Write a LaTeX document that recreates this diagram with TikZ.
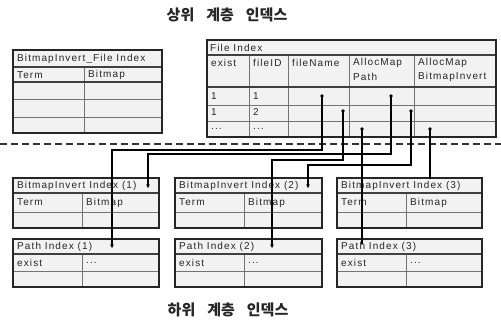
\documentclass[tikz,border=0pt]{standalone}
\usepackage{fontspec}
\setmainfont{Liberation Sans}[LetterSpace=11]
\newfontfamily\kr{Noto Sans CJK KR}
\usetikzlibrary{arrows.meta}
\begin{document}
\begin{tikzpicture}[x=1pt,y=-1pt,
  tblfill/.style={fill=black!5},
  outer/.style={draw=black!85, line width=1.8pt},
  midline/.style={draw=black!75, line width=1.3pt},
  inner/.style={draw=black!55, line width=0.8pt},
  txt/.style={anchor=west, inner sep=0pt, font=\fontsize{10}{12}\selectfont, text=black!85},
  link/.style={draw=black, line width=1.3pt},
  src/.style={circle, fill=black, inner sep=0pt, minimum size=3.6pt},
  tip/.style={-{Stealth[length=3.6pt,width=3.6pt]}},
  sep/.style={draw=black!80, line width=1.8pt, dash pattern=on 7pt off 4pt},
  title/.style={font=\kr\bfseries\fontsize{15}{17}\selectfont, inner sep=0pt, text=black!85}]

\fill[white] (0,0) rectangle (501,323);
\useasboundingbox (0,0) rectangle (501,323);

% titles
\node[title] (toptitle) at (227,15) {상위\hspace{12pt}계층\hspace{12pt}인덱스};
\node[title] (bottitle) at (228,310) {하위\hspace{12pt}계층\hspace{12pt}인덱스};

% BitmapInvert_File Index
\path[tblfill] (13,50) rectangle (162,133);
\draw[inner] (13,99) -- (162,99) (13,117) -- (162,117) (84,67) -- (84,133);
\draw[midline] (13,67) -- (162,67) (13,82) -- (162,82);
\draw[outer] (13,50) rectangle (162,133);
\node[txt] (atitle) at (17,58.5) {BitmapInvert\_File Index};
\node[txt] (aterm) at (17,75) {Term};
\node[txt] (abit) at (88,75) {Bitmap};

% File Index
\path[tblfill] (207,40) rectangle (496,137);
\draw[inner] (207,105) -- (496,105) (207,121) -- (496,121)
  (249,55) -- (249,137) (288,55) -- (288,137) (349,55) -- (349,137) (414,55) -- (414,137);
\draw[midline] (207,55) -- (496,55) (207,87) -- (496,87);
\draw[outer] (207,40) rectangle (496,137);
\node[txt] (ftitle) at (210,47.5) {File Index};
\node[txt] (h1) at (211,63) {exist};
\node[txt] (h2) at (253,63) {fileID};
\node[txt] (h3) at (292,63) {fileName};
\node[txt] (h4) at (353,63) {AllocMap};
\node[txt] (h4b) at (353,77) {Path};
\node[txt] (h5) at (418,63) {AllocMap};
\node[txt] (h5b) at (418,77) {BitmapInvert};
\node[txt] (r1a) at (211,96) {1};
\node[txt] (r1b) at (253,96) {1};
\node[txt] (r2a) at (211,112.5) {1};
\node[txt] (r2b) at (253,112.5) {2};
\node[txt] (r3a) at (211,128.5) {...};
\node[txt] (r3b) at (253,128.5) {...};

% lower tables
\foreach \L/\S/\R/\n in {13/82/159/1, 175/244/322/2, 337/406/482/3}{
  \path[tblfill] (\L,178) rectangle (\R,228);
  \draw[inner] (\L,212) -- (\R,212) (\S,193) -- (\S,228);
  \draw[midline] (\L,193) -- (\R,193);
  \draw[outer] (\L,178) rectangle (\R,228);
  \node[txt] (bi\n) at ({\L+4},185.5) {BitmapInvert Index (\n)};
  \node[txt] (biterm\n) at ({\L+4},202.5) {Term};
  \node[txt] (bibit\n) at ({\S+4},202.5) {Bitmap};
  \path[tblfill] (\L,239) rectangle (\R,287);
  \draw[inner] (\L,271) -- (\R,271) (\S,254) -- (\S,287);
  \draw[midline] (\L,254) -- (\R,254);
  \draw[outer] (\L,239) rectangle (\R,287);
  \node[txt] (pi\n) at ({\L+4},246.5) {Path Index (\n)};
  \node[txt] (piex\n) at ({\L+4},262.5) {exist};
  \node[txt] (pidot\n) at ({\S+4},262.5) {...};
}

% separator
\coordinate (sepL) at (0,144);
\coordinate (sepR) at (501,144);
\draw[sep] (sepL) -- (sepR);

% sources
\node[src] (d1) at (322,96) {};
\node[src] (d2) at (391,96) {};
\node[src] (d3) at (343,111) {};
\node[src] (d4) at (411,111) {};
\node[src] (d5) at (362,129) {};
\node[src] (d6) at (430,129) {};

% bends and ends
\coordinate (k1) at (112,150);
\coordinate (k2) at (148,154);
\coordinate (k3) at (272,160);
\coordinate (k4) at (308,165);
\coordinate (e1) at (112,248);
\coordinate (e2) at (148,188);
\coordinate (e3) at (272,248);
\coordinate (e4) at (308,188);
\coordinate (e5) at (362,244);
\coordinate (e6) at (430,179);

\draw[link,tip] (d1.center) |- (k1) -- (e1);
\draw[link,tip] (d2.center) |- (k2) -- (e2);
\draw[link,tip] (d3.center) |- (k3) -- (e3);
\draw[link,tip] (d4.center) |- (k4) -- (e4);
\draw[link] (d5.center) -- (e5);
\draw[link] (d6.center) -- (e6);
\end{tikzpicture}
\end{document}
